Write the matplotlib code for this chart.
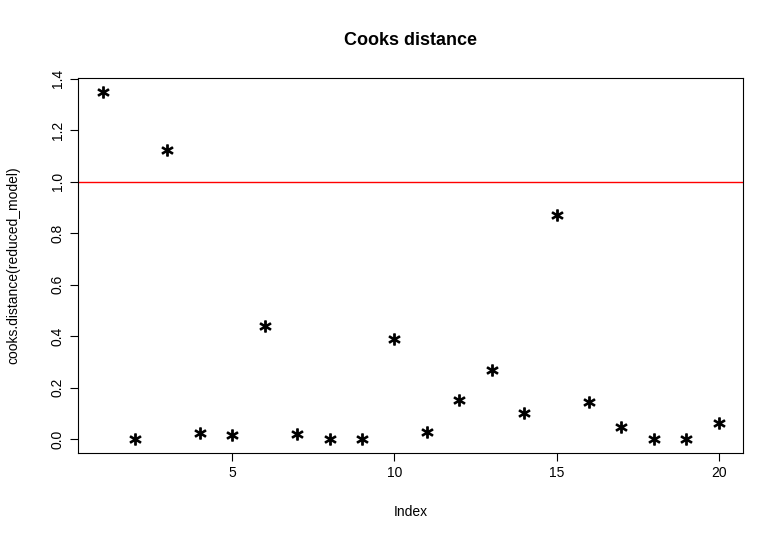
import matplotlib
matplotlib.use("Agg")
import matplotlib.pyplot as plt

index = list(range(1, 21))
cooks = [1.348, 0.0, 1.125, 0.023, 0.016, 0.44, 0.02, 0.0, 0.0, 0.39,
         0.027, 0.152, 0.27, 0.10, 0.87, 0.145, 0.047, 0.0, 0.0, 0.063]
xticks = [5, 10, 15, 20]
yticks = [0.0, 0.2, 0.4, 0.6, 0.8, 1.0, 1.2, 1.4]

plt.rcParams['font.family'] = ['Liberation Sans', 'DejaVu Sans']
fig = plt.figure(figsize=(7.84, 5.51), dpi=100)
ax = fig.add_axes([0.0995, 0.178, 0.8485, 0.68])

ax.plot(index, cooks, linestyle='none', marker='$*$', markersize=8, color='black')
ax.axhline(1.0, color='red', linewidth=1)

ax.set_xlim(0.24, 20.76)
ax.set_ylim(-0.054, 1.402)
ax.set_xticks(xticks)
ax.set_xticklabels([str(t) for t in xticks])
ax.set_yticks(yticks)
ax.set_yticklabels(["%.1f" % t for t in yticks], rotation=90, va='center')
ax.tick_params(direction='out', length=6, labelsize=10)
ax.set_xlabel("Index", fontsize=10, labelpad=18)
ax.set_ylabel("cooks.distance(reduced_model)", fontsize=10, labelpad=22)
ax.set_title("Cooks distance", fontsize=13, fontweight='bold', pad=24)

fig.savefig("out.png", dpi=100)
